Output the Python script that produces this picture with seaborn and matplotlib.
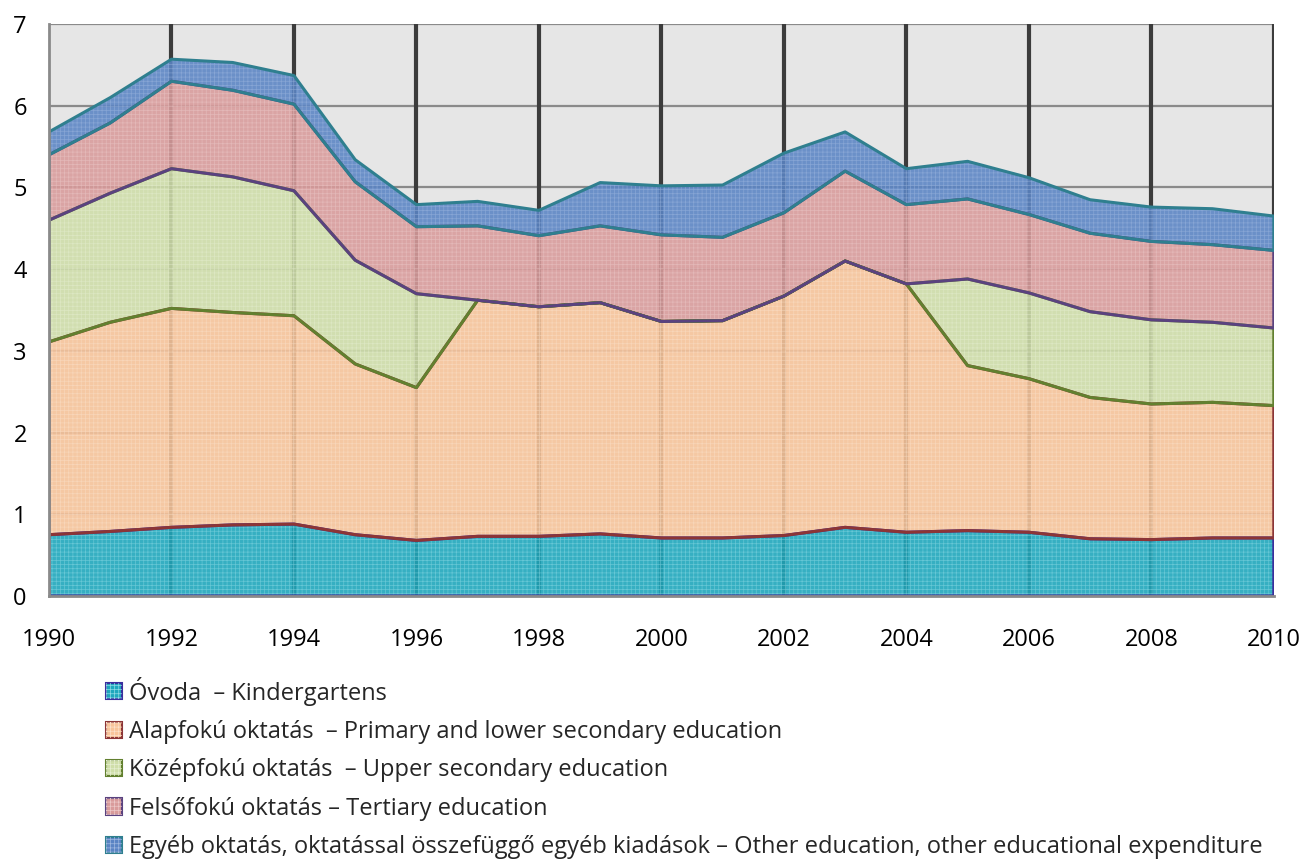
"""Oktatási kiadások a GDP százalékában, 1990-2010 (halmozott terület)."""
import numpy as np
import pandas as pd
import matplotlib
matplotlib.use('Agg')
import matplotlib.pyplot as plt
from matplotlib.patches import Patch
from matplotlib.legend_handler import HandlerTuple
import seaborn as sns

years = list(range(1990, 2011))

ovoda = [0.75, 0.79, 0.84, 0.87, 0.88, 0.75, 0.68, 0.73, 0.73, 0.76, 0.71,
         0.71, 0.74, 0.84, 0.78, 0.80, 0.78, 0.70, 0.69, 0.71, 0.71]
alapfoku = [2.36, 2.56, 2.68, 2.60, 2.55, 2.09, 1.87, 2.89, 2.81, 2.83, 2.65,
            2.66, 2.93, 3.26, 3.04, 2.02, 1.88, 1.73, 1.66, 1.66, 1.62]
kozepfoku = [1.49, 1.58, 1.71, 1.66, 1.53, 1.27, 1.15, 0, 0, 0, 0,
             0, 0, 0, 0, 1.06, 1.05, 1.05, 1.03, 0.98, 0.95]
felsofoku = [0.80, 0.86, 1.07, 1.06, 1.06, 0.96, 0.82, 0.91, 0.87, 0.94, 1.06,
             1.02, 1.02, 1.10, 0.97, 0.98, 0.96, 0.96, 0.96, 0.95, 0.95]
egyeb = [0.28, 0.31, 0.27, 0.34, 0.35, 0.27, 0.27, 0.30, 0.31, 0.53, 0.60,
         0.64, 0.73, 0.48, 0.44, 0.46, 0.45, 0.41, 0.42, 0.44, 0.42]

labels = [
    'Óvoda  – Kindergartens',
    'Alapfokú oktatás  – Primary and lower secondary education',
    'Középfokú oktatás  – Upper secondary education',
    'Felsőfokú oktatás – Tertiary education',
    'Egyéb oktatás, oktatással összefüggő egyéb kiadások – Other education, other educational expenditure',
]

# kitöltés, körvonal, minta színe
fills = ['#1ea8bd', '#f8c49a', '#cfdea9', '#d99b9b', '#5a84c4']
edges = ['#3a2f9e', '#8c3536', '#62802f', '#5a427f', '#2f7f8f']
hatches = ['#8fdbe6', '#fbe2cc', '#e6efd2', '#ecc9c9', '#9fb8e0']

df = pd.DataFrame({'year': years, 'ovoda': ovoda, 'alap': alapfoku,
                   'kozep': kozepfoku, 'felso': felsofoku, 'egyeb': egyeb})
cols = ['ovoda', 'alap', 'kozep', 'felso', 'egyeb']
tops = df[cols].cumsum(axis=1)

sns.set_theme(style='white')
plt.rcParams['font.family'] = ['Open Sans', 'DejaVu Sans']
plt.rcParams['hatch.linewidth'] = 0.5

fig = plt.figure(figsize=(13.03, 8.6), dpi=100)
ax = fig.add_axes([0.0376, 0.307, 0.94, 0.665])
ax.set_facecolor('#e6e6e6')

# rács
for y in range(1, 8):
    ax.axhline(y, color='#8a8a8a', lw=1.6, zorder=0)
for x in range(1992, 2011, 2):
    ax.axvline(x, color='#3c3c3c', lw=3, zorder=0)

bottom = np.zeros(len(years))
for i, c in enumerate(cols):
    top = tops[c].values
    ax.fill_between(df['year'], bottom, top, facecolor=fills[i], edgecolor='none',
                    alpha=0.88, zorder=2 + i * 0.1)
    ax.fill_between(df['year'], bottom, top, facecolor='none', edgecolor=hatches[i],
                    hatch='++++', linewidth=0, alpha=0.55, zorder=2 + i * 0.1)
    ax.fill_between(df['year'], bottom, top, facecolor='none', edgecolor=edges[i],
                    linewidth=2.2, zorder=3 + i * 0.1)
    bottom = top

ax.set_xlim(1990, 2010)
ax.set_ylim(0, 7)
ax.set_xticks(range(1990, 2011, 2))
ax.set_yticks(range(0, 8))
ax.set_xlabel('')
ax.set_ylabel('')
for s in ['top', 'right']:
    ax.spines[s].set_visible(False)
for s in ['left', 'bottom']:
    ax.spines[s].set_color('#8a8a8a')
    ax.spines[s].set_linewidth(2)
    ax.spines[s].set_zorder(5)
ax.tick_params(axis='both', which='both', direction='out', length=6, width=1.6,
               color='#8a8a8a', labelsize=17, labelcolor='black')
ax.tick_params(axis='x', pad=17)
ax.tick_params(axis='y', pad=10)

# jelmagyarázat: kitöltés + finom rácsminta egymásra
handles = []
for i in range(5):
    base = Patch(facecolor=fills[i], edgecolor=edges[i], linewidth=1.5)
    grid = Patch(facecolor='none', edgecolor=hatches[i], linewidth=0, hatch='++++')
    handles.append((base, grid))
fig.legend(handles=handles, labels=labels, loc='upper left',
           bbox_to_anchor=(0.072, 0.227), frameon=False, fontsize=17,
           handlelength=0.68, handleheight=0.68, handletextpad=0.3,
           labelspacing=0.61, borderpad=0,
           handler_map={tuple: HandlerTuple(ndivide=1, pad=0)})

fig.savefig('out.png', dpi=100)
